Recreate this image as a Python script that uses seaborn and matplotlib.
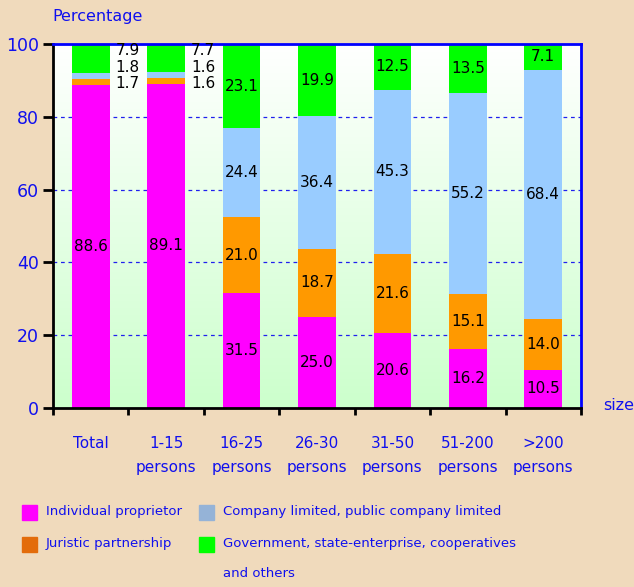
import numpy as np
import matplotlib
matplotlib.use("Agg")
import matplotlib.pyplot as plt
from matplotlib.patches import Rectangle
import seaborn as sns
import pandas as pd

# data
sizes = ["Total", "1-15\npersons", "16-25\npersons", "26-30\npersons",
         "31-50\npersons", "51-200\npersons", ">200\npersons"]
individual = [88.6, 89.1, 31.5, 25.0, 20.6, 16.2, 10.5]
juristic = [1.7, 1.6, 21.0, 18.7, 21.6, 15.1, 14.0]
company = [1.8, 1.6, 24.4, 36.4, 45.3, 55.2, 68.4]
government = [7.9, 7.7, 23.1, 19.9, 12.5, 13.5, 7.1]

series_names = ["Individual proprietor", "Juristic partnership",
                "Company limited, public company limited",
                "Government, state-enterprise, cooperatives\nand others"]
bar_colors = ["#FF00FF", "#FF9900", "#99CCFF", "#00FF00"]
legend_colors = ["#FF00FF", "#E36C0A", "#95B3D7", "#00FF00"]

BG = "#F0DABC"
BLUE = "#1010EE"

sns.set_theme(style="white")
plt.rcParams["font.family"] = ["DejaVu Sans"]

df = pd.DataFrame({"size": sizes, "ind": individual, "jur": juristic,
                   "com": company, "gov": government})
cols = ["ind", "jur", "com", "gov"]
cum = df[cols].cumsum(axis=1)

fig = plt.figure(figsize=(6.34, 5.87), dpi=100, facecolor=BG)
ax = fig.add_axes([53 / 634, 1 - 408 / 587, (581 - 53) / 634, (408 - 44) / 587])

# gradient plot background: white at top, pale green at bottom
grad = np.linspace(0, 1, 256).reshape(-1, 1)
cmap = matplotlib.colors.LinearSegmentedColormap.from_list("bg", ["#FFFFFF", "#CCFFCC"])
ax.imshow(grad, extent=[-0.5, 6.5, 0, 100], origin="upper", aspect="auto",
          cmap=cmap, zorder=0)

for y in [20, 40, 60, 80]:
    ax.axhline(y, color="#2020EE", lw=0.9, ls=(0, (3, 3)), zorder=1)

# stacked bars drawn as overlapping cumulative bars, tallest first
for col, color in zip(cols[::-1], bar_colors[::-1]):
    sns.barplot(x=df["size"], y=cum[col], color=color, width=0.5,
                saturation=1, linewidth=0, edgecolor="none", ax=ax, zorder=2)

# value labels
for i in range(len(sizes)):
    bottom = 0
    for k, col in enumerate(cols):
        v = df[col][i]
        if i >= 2 or k == 0:
            ax.text(i, bottom + v / 2, f"{v:.1f}", ha="center", va="center",
                    fontsize=11, color="black", zorder=3)
        bottom += v
    if i < 2:
        for k, col in enumerate(cols[:0:-1]):
            ax.annotate(f"{df[col][i]:.1f}", xy=(i + 0.49, 100),
                        xytext=(0, -5 - 11.7 * k), textcoords="offset points",
                        ha="center", va="center", fontsize=11, color="black",
                        zorder=3)

ax.set_xlim(-0.5, 6.5)
ax.set_ylim(0, 100)
ax.set_yticks([0, 20, 40, 60, 80, 100])
ax.set_xlabel("")
ax.set_ylabel("")
ax.set_xticks(range(len(sizes)))
ax.set_xticklabels(sizes, color=BLUE, fontsize=11)
for lab in ax.get_xticklabels():
    lab.set_linespacing(1.8)
ax.set_xticks(np.arange(-0.5, 7, 1), minor=True)
ax.tick_params(axis="x", which="major", length=0, pad=20)
ax.tick_params(axis="x", which="minor", length=5, width=2, color="black",
               direction="out", bottom=True)
ax.tick_params(axis="y", length=7, width=2, color="black", direction="out",
               left=True, labelcolor=BLUE, labelsize=12.5, pad=3)

for side in ["left", "bottom"]:
    ax.spines[side].set_color("black")
    ax.spines[side].set_linewidth(2)
for side in ["top", "right"]:
    ax.spines[side].set_color("#0000FF")
    ax.spines[side].set_linewidth(2)

fig.text(52 / 634, 1 - 17 / 587, "Percentage", color=BLUE, fontsize=11.5,
         ha="left", va="center")
fig.text(603 / 634, 1 - 405 / 587, "size", color=BLUE, fontsize=11.5,
         ha="left", va="center")

# legend, two columns
W, H = 634, 587
slots = [(22, 512), (22, 544), (199, 512), (199, 544)]
for name, color, (px, py) in zip(series_names, legend_colors, slots):
    fig.add_artist(Rectangle((px / W, (H - py - 7.5) / H), 15 / W, 15 / H,
                             transform=fig.transFigure, color=color))
    if "\n" in name:
        fig.text((px + 24) / W, (H - py + 7.5) / H, name, color=BLUE,
                 fontsize=9.5, ha="left", va="top", linespacing=2.75)
    else:
        fig.text((px + 24) / W, (H - py) / H, name, color=BLUE,
                 fontsize=9.5, ha="left", va="center")

fig.savefig("out.png", dpi=100, facecolor=BG)
